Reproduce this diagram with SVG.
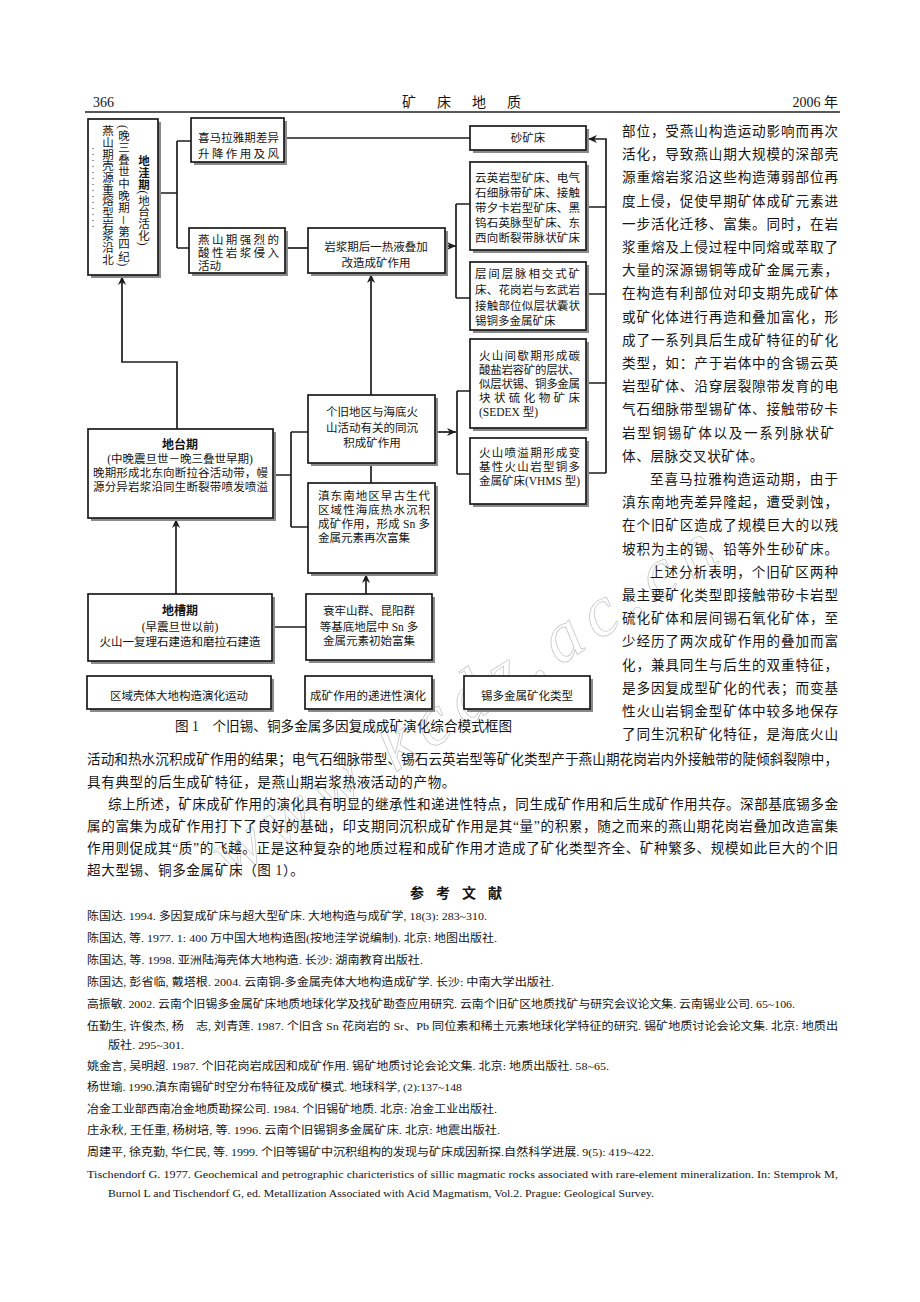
<svg xmlns="http://www.w3.org/2000/svg" width="920" height="1302" viewBox="0 0 920 1302">
<style>
.bx{fill:#fff;stroke:#1a1a1a;stroke-width:1.7}
.sh{fill:#8a8a8a}
.t{font-family:"Liberation Serif","Noto Sans CJK SC",serif;font-size:11.5px;fill:#151515}
.m{text-anchor:middle}
.bd{font-weight:bold;font-size:12px}
.c{stroke:#1e1e1e;stroke-width:1.7;fill:none}
.p{font-family:"Liberation Serif","Noto Sans CJK SC",serif;font-size:13.6px;fill:#151515}
.r{font-family:"Liberation Serif","Noto Sans CJK SC",serif;font-size:11px;fill:#151515}
.h{font-family:"Liberation Serif","Noto Sans CJK SC",serif;font-size:14px;fill:#151515}
.v{writing-mode:vertical-rl}
</style>
<defs>
<marker id="ah" viewBox="0 0 10 10" refX="10" refY="5" markerWidth="9" markerHeight="9" markerUnits="userSpaceOnUse" orient="auto"><path d="M0,0.5 L10,5 L0,9.5 L3,5 z" fill="#1e1e1e"/></marker>
</defs>
<rect width="920" height="1302" fill="#fff"/>

<g id="watermark" fill="none" stroke="#c8c8c8" stroke-width="0.8" font-family="Liberation Serif, serif" font-style="italic" font-size="72">
<text x="230" y="880" transform="rotate(-33 230 880)" letter-spacing="10">www.kcdz.ac.cn</text>
</g>

<g id="header">
<text class="h" x="93" y="107">366</text>
<text class="h" x="402" y="107" letter-spacing="21">矿床地质</text>
<text class="h" x="838" y="107" text-anchor="end">2006 年</text>
<line x1="85" y1="112" x2="840" y2="112" stroke="#222" stroke-width="1.4"/>
</g>

<g id="connectors">
<path class="c" d="M158,193 H177 M177,141 V248 M177,141 H191 M177,248 H189"/>
<path class="c" d="M284,138 H470"/>
<path class="c" d="M285,248 H308"/>
<path class="c" d="M445,246 H456" marker-end="url(#ah)"/>
<path class="c" d="M456,204 V298 M456,204 H470 M456,298 H470"/>
<path class="c" d="M587,207 H606 M587,294 H606 M587,383 H606 M587,473 H606"/>
<path class="c" d="M606,473 V139 H588" marker-end="url(#ah)"/>
<path class="c" d="M435,432 H456" marker-end="url(#ah)"/>
<path class="c" d="M457,391 V474 M457,391 H470 M457,474 H470"/>
<path class="c" d="M371,395 V274" marker-end="url(#ah)"/>
<path class="c" d="M371,463 V483"/>
<path class="c" d="M273,475 H291 M291,432 V527 M291,432 H308 M291,527 H308"/>
<path class="c" d="M177,429 V362 H122 V276" marker-end="url(#ah)"/>
<path class="c" d="M176,594 V519" marker-end="url(#ah)"/>
<path class="c" d="M272,627 H306"/>
<path class="c" d="M366,594 V574" marker-end="url(#ah)"/>
</g>

<g id="n_diwa">
<rect class="sh" x="91" y="122" width="70" height="156"/>
<rect class="bx" x="88" y="119" width="70" height="156"/>
<text class="t v" x="143" y="155" letter-spacing="0.3"><tspan font-weight="bold">地洼期</tspan>(地台活化)</text>
<text class="t v" x="123" y="125" letter-spacing="0.6">(晚三叠世中晚期－第四纪)</text>
<text class="t v" x="107" y="125" letter-spacing="0.2">燕山期壳源重熔型岩浆沿北</text>
<line x1="93" y1="148" x2="93" y2="230" stroke="#555" stroke-width="1.2" stroke-dasharray="1 5"/>
</g>

<g id="n_ximalaya">
<rect class="sh" x="194" y="121" width="93" height="44"/>
<rect class="bx" x="191" y="118" width="93" height="44"/>
<text class="t" x="198" y="142" textLength="81" lengthAdjust="spacing">喜马拉雅期差异</text>
<text class="t" x="198" y="158" textLength="81" lengthAdjust="spacing">升降作用及风</text>
</g>

<g id="n_yanshan">
<rect class="sh" x="192" y="231" width="96" height="45"/>
<rect class="bx" x="189" y="228" width="96" height="45"/>
<text class="t" x="198" y="244" textLength="81" lengthAdjust="spacing">燕山期强烈的</text>
<text class="t" x="198" y="257" textLength="81" lengthAdjust="spacing">酸性岩浆侵入</text>
<text class="t" x="198" y="270">活动</text>
</g>

<g id="n_yanjiang">
<rect class="sh" x="311" y="231" width="137" height="45"/>
<rect class="bx" x="308" y="228" width="137" height="45"/>
<text class="t m" x="376" y="251">岩浆期后一热液叠加</text>
<text class="t m" x="376" y="267">改造成矿作用</text>
</g>

<g id="n_shakuang">
<rect class="sh" x="473" y="129" width="116" height="24"/>
<rect class="bx" x="470" y="126" width="116" height="24"/>
<text class="t m" x="528" y="142">砂矿床</text>
</g>

<g id="n_yunying">
<rect class="sh" x="473" y="165" width="116" height="88"/>
<rect class="bx" x="470" y="162" width="116" height="88"/>
<text class="t" x="475" y="182" textLength="105" lengthAdjust="spacing">云英岩型矿床、电气</text>
<text class="t" x="475" y="197" textLength="105" lengthAdjust="spacing">石细脉带矿床、接触</text>
<text class="t" x="475" y="212" textLength="105" lengthAdjust="spacing">带夕卡岩型矿床、黑</text>
<text class="t" x="475" y="227" textLength="105" lengthAdjust="spacing">钨石英脉型矿床、东</text>
<text class="t" x="475" y="242" textLength="105" lengthAdjust="spacing">西向断裂带脉状矿床</text>
</g>

<g id="n_cengjian">
<rect class="sh" x="473" y="265" width="116" height="68"/>
<rect class="bx" x="470" y="262" width="116" height="68"/>
<text class="t" x="475" y="278" textLength="105" lengthAdjust="spacing">层间层脉相交式矿</text>
<text class="t" x="475" y="294" textLength="105" lengthAdjust="spacing">床、花岗岩与玄武岩</text>
<text class="t" x="475" y="310" textLength="105" lengthAdjust="spacing">接触部位似层状囊状</text>
<text class="t" x="475" y="325">锡铜多金属矿床</text>
</g>

<g id="n_huoshan1">
<rect class="sh" x="473" y="342" width="116" height="89"/>
<rect class="bx" x="470" y="339" width="116" height="89"/>
<text class="t" x="479" y="360" textLength="101" lengthAdjust="spacing">火山间歇期形成碳</text>
<text class="t" x="479" y="374" textLength="101" lengthAdjust="spacing">酸盐岩容矿的层状、</text>
<text class="t" x="479" y="388" textLength="101" lengthAdjust="spacing">似层状锡、铜多金属</text>
<text class="t" x="479" y="402" textLength="101" lengthAdjust="spacing">块状硫化物矿床</text>
<text class="t" x="479" y="416">(SEDEX 型)</text>
</g>

<g id="n_huoshan2">
<rect class="sh" x="473" y="441" width="116" height="66"/>
<rect class="bx" x="470" y="438" width="116" height="66"/>
<text class="t" x="479" y="457" textLength="101" lengthAdjust="spacing">火山喷溢期形成变</text>
<text class="t" x="479" y="471" textLength="101" lengthAdjust="spacing">基性火山岩型铜多</text>
<text class="t" x="479" y="485" textLength="101" lengthAdjust="spacing">金属矿床(VHMS 型)</text>
</g>

<g id="n_gejiu">
<rect class="sh" x="311" y="398" width="127" height="68"/>
<rect class="bx" x="308" y="395" width="127" height="68"/>
<text class="t m" x="372" y="416">个旧地区与海底火</text>
<text class="t m" x="372" y="432">山活动有关的同沉</text>
<text class="t m" x="372" y="447">积成矿作用</text>
</g>

<g id="n_diannan">
<rect class="sh" x="311" y="486" width="127" height="90"/>
<rect class="bx" x="308" y="483" width="127" height="90"/>
<text class="t" x="318" y="500" textLength="112" lengthAdjust="spacing">滇东南地区早古生代</text>
<text class="t" x="318" y="514" textLength="112" lengthAdjust="spacing">区域性海底热水沉积</text>
<text class="t" x="318" y="528" textLength="112" lengthAdjust="spacing">成矿作用，形成 Sn 多</text>
<text class="t" x="318" y="542">金属元素再次富集</text>
</g>

<g id="n_ditai">
<rect class="sh" x="91" y="432" width="185" height="89"/>
<rect class="bx" x="88" y="429" width="185" height="89"/>
<text class="t m bd" x="180" y="449">地台期</text>
<text class="t m" x="180" y="463">(中晚震旦世－晚三叠世早期)</text>
<text class="t" x="93" y="477" textLength="175" lengthAdjust="spacing">晚期形成北东向断拉谷活动带，幔</text>
<text class="t" x="93" y="491" textLength="175" lengthAdjust="spacing">源分异岩浆沿同生断裂带喷发喷溢</text>
</g>

<g id="n_dicao">
<rect class="sh" x="91" y="597" width="184" height="67"/>
<rect class="bx" x="88" y="594" width="184" height="67"/>
<text class="t m bd" x="180" y="615">地槽期</text>
<text class="t m" x="180" y="631">(早震旦世以前)</text>
<text class="t m" x="180" y="646">火山一复理石建造和磨拉石建造</text>
</g>

<g id="n_ailao">
<rect class="sh" x="309" y="597" width="126" height="66"/>
<rect class="bx" x="306" y="594" width="126" height="66"/>
<text class="t m" x="369" y="615">衰牢山群、昆阳群</text>
<text class="t m" x="369" y="631">等基底地层中 Sn 多</text>
<text class="t m" x="369" y="645">金属元素初始富集</text>
</g>

<g id="legend1">
<rect class="sh" x="90" y="679" width="184" height="33"/>
<rect class="bx" x="87" y="676" width="184" height="33"/>
<text class="t m" x="179" y="700">区域壳体大地构造演化运动</text>
</g>
<g id="legend2">
<rect class="sh" x="308" y="679" width="127" height="33"/>
<rect class="bx" x="305" y="676" width="127" height="33"/>
<text class="t" x="310" y="700" textLength="116" lengthAdjust="spacing">成矿作用的递进性演化</text>
</g>
<g id="legend3">
<rect class="sh" x="467" y="679" width="126" height="33"/>
<rect class="bx" x="464" y="676" width="126" height="33"/>
<text class="t m" x="527" y="700">锡多金属矿化类型</text>
</g>

<text id="caption" class="p" x="175" y="731" font-size="12.5" textLength="337" lengthAdjust="spacing">图 1　个旧锡、铜多金属多因复成成矿演化综合模式框图</text>

<g id="rightcol">
<text class="p" x="622" y="136" textLength="216" lengthAdjust="spacing">部位，受燕山构造运动影响而再次</text>
<text class="p" x="622" y="159.2" textLength="216" lengthAdjust="spacing">活化，导致燕山期大规模的深部壳</text>
<text class="p" x="622" y="182.4" textLength="216" lengthAdjust="spacing">源重熔岩浆沿这些构造薄弱部位再</text>
<text class="p" x="622" y="205.6" textLength="216" lengthAdjust="spacing">度上侵，促使早期矿体成矿元素进</text>
<text class="p" x="622" y="228.8" textLength="216" lengthAdjust="spacing">一步活化迁移、富集。同时，在岩</text>
<text class="p" x="622" y="252" textLength="216" lengthAdjust="spacing">浆重熔及上侵过程中同熔或萃取了</text>
<text class="p" x="622" y="275.2" textLength="216" lengthAdjust="spacing">大量的深源锡铜等成矿金属元素，</text>
<text class="p" x="622" y="298.4" textLength="216" lengthAdjust="spacing">在构造有利部位对印支期先成矿体</text>
<text class="p" x="622" y="321.6" textLength="216" lengthAdjust="spacing">或矿化体进行再造和叠加富化，形</text>
<text class="p" x="622" y="344.8" textLength="216" lengthAdjust="spacing">成了一系列具后生成矿特征的矿化</text>
<text class="p" x="622" y="368" textLength="216" lengthAdjust="spacing">类型，如：产于岩体中的含锡云英</text>
<text class="p" x="622" y="391.2" textLength="216" lengthAdjust="spacing">岩型矿体、沿穿层裂隙带发育的电</text>
<text class="p" x="622" y="414.4" textLength="216" lengthAdjust="spacing">气石细脉带型锡矿体、接触带矽卡</text>
<text class="p" x="622" y="437.6" textLength="212" lengthAdjust="spacing">岩型铜锡矿体以及一系列脉状矿</text>
<text class="p" x="622" y="460.8" letter-spacing="0.6">体、层脉交叉状矿体。</text>
<text class="p" x="650" y="484" textLength="188" lengthAdjust="spacing">至喜马拉雅构造运动期，由于</text>
<text class="p" x="622" y="507.2" textLength="216" lengthAdjust="spacing">滇东南地壳差异隆起，遭受剥蚀，</text>
<text class="p" x="622" y="530.4" textLength="216" lengthAdjust="spacing">在个旧矿区造成了规模巨大的以残</text>
<text class="p" x="622" y="553.6" textLength="216" lengthAdjust="spacing">坡积为主的锡、铅等外生砂矿床。</text>
<text class="p" x="650" y="576.8" textLength="188" lengthAdjust="spacing">上述分析表明，个旧矿区两种</text>
<text class="p" x="622" y="600" textLength="216" lengthAdjust="spacing">最主要矿化类型即接触带矽卡岩型</text>
<text class="p" x="622" y="623.2" textLength="216" lengthAdjust="spacing">硫化矿体和层间锡石氧化矿体，至</text>
<text class="p" x="622" y="646.4" textLength="216" lengthAdjust="spacing">少经历了两次成矿作用的叠加而富</text>
<text class="p" x="622" y="669.6" textLength="216" lengthAdjust="spacing">化，兼具同生与后生的双重特征，</text>
<text class="p" x="622" y="692.8" textLength="216" lengthAdjust="spacing">是多因复成型矿化的代表；而变基</text>
<text class="p" x="622" y="716" textLength="216" lengthAdjust="spacing">性火山岩铜金型矿体中较多地保存</text>
<text class="p" x="622" y="739.2" textLength="216" lengthAdjust="spacing">了同生沉积矿化特征，是海底火山</text>
</g>

<g id="bodytext">
<text class="p" x="87" y="764" textLength="751" lengthAdjust="spacing">活动和热水沉积成矿作用的结果；电气石细脉带型、锡石云英岩型等矿化类型产于燕山期花岗岩内外接触带的陡倾斜裂隙中，</text>
<text class="p" x="87" y="787" letter-spacing="0.6">具有典型的后生成矿特征，是燕山期岩浆热液活动的产物。</text>
<text class="p" x="108" y="809" textLength="730" lengthAdjust="spacing">综上所述，矿床成矿作用的演化具有明显的继承性和递进性特点，同生成矿作用和后生成矿作用共存。深部基底锡多金</text>
<text class="p" x="87" y="831" textLength="751" lengthAdjust="spacing">属的富集为成矿作用打下了良好的基础，印支期同沉积成矿作用是其“量”的积累，随之而来的燕山期花岗岩叠加改造富集</text>
<text class="p" x="87" y="853" textLength="751" lengthAdjust="spacing">作用则促成其“质”的飞越。正是这种复杂的地质过程和成矿作用才造成了矿化类型齐全、矿种繁多、规模如此巨大的个旧</text>
<text class="p" x="87" y="875" letter-spacing="0.6">超大型锡、铜多金属矿床（图 1）。</text>
</g>

<g id="references">
<text class="h" x="462" y="898" text-anchor="middle" font-weight="bold" letter-spacing="12">参考文献</text>
<text class="r" x="87" y="920" textLength="400" lengthAdjust="spacingAndGlyphs">陈国达. 1994. 多因复成矿床与超大型矿床. 大地构造与成矿学, 18(3): 283~310.</text>
<text class="r" x="87" y="942" textLength="410" lengthAdjust="spacingAndGlyphs">陈国达, 等. 1977. 1: 400 万中国大地构造图(按地洼学说编制). 北京: 地图出版社.</text>
<text class="r" x="87" y="964" textLength="336" lengthAdjust="spacingAndGlyphs">陈国达, 等. 1998. 亚洲陆海壳体大地构造. 长沙: 湖南教育出版社.</text>
<text class="r" x="87" y="986" textLength="467" lengthAdjust="spacingAndGlyphs">陈国达, 彭省临, 戴塔根. 2004. 云南铜-多金属壳体大地构造成矿学. 长沙: 中南大学出版社.</text>
<text class="r" x="87" y="1008" textLength="708" lengthAdjust="spacingAndGlyphs">高振敏. 2002. 云南个旧锡多金属矿床地质地球化学及找矿勘查应用研究. 云南个旧矿区地质找矿与研究会议论文集. 云南锡业公司. 65~106.</text>
<text class="r" x="87" y="1030" textLength="751" lengthAdjust="spacingAndGlyphs">伍勤生, 许俊杰, 杨　志, 刘青莲. 1987. 个旧含 Sn 花岗岩的 Sr、Pb 同位素和稀土元素地球化学特征的研究. 锡矿地质讨论会论文集. 北京: 地质出</text>
<text class="r" x="108" y="1049" textLength="76" lengthAdjust="spacingAndGlyphs">版社. 295~301.</text>
<text class="r" x="87" y="1070" textLength="522" lengthAdjust="spacingAndGlyphs">姚金言, 吴明超. 1987. 个旧花岗岩成因和成矿作用. 锡矿地质讨论会论文集. 北京: 地质出版社. 58~65.</text>
<text class="r" x="87" y="1091" textLength="375" lengthAdjust="spacingAndGlyphs">杨世瑜. 1990.滇东南锡矿时空分布特征及成矿模式. 地球科学, (2):137~148</text>
<text class="r" x="87" y="1113" textLength="410" lengthAdjust="spacingAndGlyphs">冶金工业部西南冶金地质勘探公司. 1984. 个旧锡矿地质. 北京: 冶金工业出版社.</text>
<text class="r" x="87" y="1134" textLength="413" lengthAdjust="spacingAndGlyphs">庄永秋, 王任重, 杨树培, 等. 1996. 云南个旧锡铜多金属矿床. 北京: 地震出版社.</text>
<text class="r" x="87" y="1156" textLength="567" lengthAdjust="spacingAndGlyphs">周建平, 徐克勤, 华仁民, 等. 1999. 个旧等锡矿中沉积组构的发现与矿床成因新探.自然科学进展. 9(5): 419~422.</text>
<text class="r" x="87" y="1178" textLength="751" lengthAdjust="spacingAndGlyphs">Tischendorf G. 1977. Geochemical and petrographic charicteristics of sillic magmatic rocks associated with rare-element mineralization. In: Stemprok M,</text>
<text class="r" x="108" y="1197" textLength="546" lengthAdjust="spacingAndGlyphs">Burnol L and Tischendorf G, ed. Metallization Associated with Acid Magmatism, Vol.2. Prague: Geological Survey.</text>
</g>
</svg>
